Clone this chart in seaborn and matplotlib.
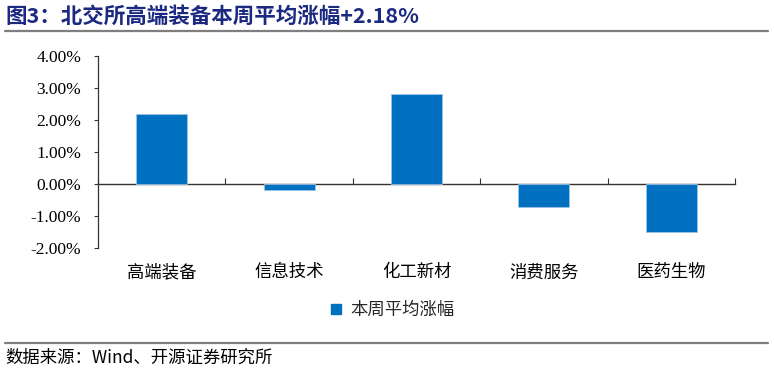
import matplotlib
matplotlib.use("Agg")
import matplotlib.pyplot as plt
from matplotlib.ticker import FuncFormatter
from matplotlib.lines import Line2D
import seaborn as sns
import pandas as pd

categories = ["高端装备", "信息技术", "化工新材", "消费服务", "医药生物"]
values = [2.18, -0.18, 2.81, -0.72, -1.50]
series_name = "本周平均涨幅"
title = "图3：北交所高端装备本周平均涨幅+2.18%"
source = "数据来源：Wind、开源证券研究所"
yticks = [-2, -1, 0, 1, 2, 3, 4]

sns.set_theme(style="white")
plt.rcParams["font.family"] = ["Noto Sans CJK SC", "DejaVu Sans"]
plt.rcParams["axes.unicode_minus"] = False

W, H = 774, 373
fig = plt.figure(figsize=(W / 100, H / 100), dpi=100)
ax = fig.add_axes([98 / W, 1 - 248 / H, (735 - 98) / W, (248 - 56) / H])

df = pd.DataFrame({"cat": categories, "val": values})
bar_color = "#0070C0"
sns.barplot(data=df, x="cat", y="val", color=bar_color, width=0.4, ax=ax,
            saturation=1, edgecolor="#9DC3E6", linewidth=0.6)

ax.set_xlim(-0.5, len(categories) - 0.5)
ax.set_ylim(-2, 4)
ax.set_yticks(yticks)
ax.yaxis.set_major_formatter(FuncFormatter(lambda v, p: f"{v:.2f}%"))
for lab in ax.get_yticklabels():
    lab.set_fontfamily(["Liberation Serif"])
    lab.set_fontsize(12.5)
ax.tick_params(axis="y", direction="out", length=3, width=0.8, color="#333333",
               labelcolor="black", pad=9, left=True)
ax.tick_params(axis="x", length=0, labelsize=12.5, pad=11, labelcolor="black")
ax.set_xlabel("")
ax.set_ylabel("")
for s in ["top", "right", "bottom"]:
    ax.spines[s].set_visible(False)
ax.spines["left"].set_color("#333333")
ax.spines["left"].set_linewidth(0.9)

# zero axis line with category boundary ticks
sec = ax.secondary_xaxis(2 / 6)
sec.set_xticks([i + 0.5 for i in range(-1, len(categories))])
sec.tick_params(direction="in", length=4, width=0.8, color="#333333", labelbottom=False)
sec.spines["bottom"].set_color("#333333")
sec.spines["bottom"].set_linewidth(1.0)
sec.xaxis.set_tick_params(labelbottom=False, labeltop=False)

# legend
handle = Line2D([], [], marker="s", linestyle="none", markersize=7,
                markerfacecolor=bar_color, markeredgecolor=bar_color)
fig.legend([handle], [series_name], loc="center", bbox_to_anchor=(391 / W, 1 - 310 / H),
           frameon=False, fontsize=12.5, handletextpad=0.3, handlelength=1.0)

# title and source
fig.text(5 / W, 1 - 16 / H, title, fontsize=15.5, fontweight="bold", color="#1B2A80",
         va="center", ha="left")
fig.add_artist(Line2D([5 / W, 768 / W], [1 - 31 / H, 1 - 31 / H], color="#7F7F7F", linewidth=1.6))
fig.add_artist(Line2D([5 / W, 768 / W], [1 - 343 / H, 1 - 343 / H], color="#7F7F7F", linewidth=1.6))
fig.text(5 / W, 1 - 358 / H, source, fontsize=12.5, color="black", va="center", ha="left")

fig.savefig("out.png", dpi=100)
